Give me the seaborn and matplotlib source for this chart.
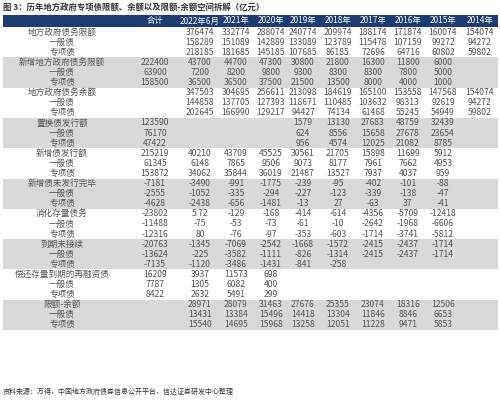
import matplotlib
matplotlib.use('Agg')
import matplotlib.pyplot as plt
import seaborn as sns
import numpy as np

sns.set_theme(style='white')
plt.rcParams['font.family'] = ['Noto Sans CJK SC', 'DejaVu Sans']

title = '图 3：历年地方政府专项债限额、余额以及限额-余额空间拆解（亿元）'
source = '资料来源：万得，中国地方政府债券信息公开平台，信达证券研发中心整理'
columns = ['合计', '2022年6月', '2021年', '2020年', '2019年', '2018年', '2017年', '2016年', '2015年', '2014年']

N = None
group_names = ['地方政府债务限额', '新增地方政府债务限额', '地方政府债务余额', '置换债发行额',
               '新增债发行额', '新增债未发行完毕', '消化存量债务', '到期未接续',
               '偿还存量到期的再融资债', '限额-余额']
sub_names = ['一般债', '专项债']

limit_total = [N, 376474, 332774, 288074, 240774, 209974, 188174, 171874, 160074, 154074]
limit_general = [N, 158289, 151089, 142889, 133089, 123789, 115478, 107159, 99272, 94272]
limit_special = [N, 218185, 181685, 145185, 107685, 86185, 72696, 64716, 60802, 59802]
newlimit_total = [222400, 43700, 44700, 47300, 30800, 21800, 16300, 11800, 6000, N]
newlimit_general = [63900, 7200, 8200, 9800, 9300, 8300, 8300, 7800, 5000, N]
newlimit_special = [158500, 36500, 36500, 37500, 21500, 13500, 8000, 4000, 1000, N]
balance_total = [N, 347503, 304695, 256611, 213098, 184619, 165100, 153558, 147568, 154074]
balance_general = [N, 144858, 137705, 127393, 118671, 110485, 103632, 98313, 92619, 94272]
balance_special = [N, 202645, 166990, 129217, 94427, 74134, 61468, 55245, 54949, 59802]
swap_total = [123590, N, N, N, 1579, 13130, 27683, 48759, 32439, N]
swap_general = [76170, N, N, N, 624, 8556, 15658, 27678, 23654, N]
swap_special = [47422, N, N, N, 956, 4574, 12025, 21082, 8785, N]
issue_total = [215219, 40210, 43709, 45525, 30561, 21705, 15898, 11699, 5912, N]
issue_general = [61345, 6148, 7865, 9506, 9073, 8177, 7961, 7662, 4953, N]
issue_special = [153872, 34062, 35844, 36019, 21487, 13527, 7937, 4037, 959, N]
unissued_total = [-7181, -3490, -991, -1775, -239, -95, -402, -101, -88, N]
unissued_general = [-2555, -1052, -335, -294, -227, -123, -339, -138, -47, N]
unissued_special = [-4628, -2438, -656, -1481, -13, 27, -63, 37, -41, N]
digest_total = [-23802, 5.72, -129, -168, -414, -614, -4356, -5709, -12418, N]
digest_general = [-11488, -75, -53, -73, -61, -10, -2642, -1968, -6606, N]
digest_special = [-12316, 80, -76, -97, -353, -603, -1714, -3741, -5812, N]
rollover_total = [-20763, -1345, -7069, -2542, -1668, -1572, -2415, -2437, -1714, N]
rollover_general = [-13624, -225, -3582, -1111, -826, -1314, -2415, -2437, -1714, N]
rollover_special = [-7135, -1120, -3486, -1431, -841, -258, N, N, N, N]
refi_total = [16209, 3937, 11573, 698, N, N, N, N, N, N]
refi_general = [7787, 1305, 6082, 400, N, N, N, N, N, N]
refi_special = [8422, 2632, 5491, 299, N, N, N, N, N, N]
space_total = [N, 28971, 28079, 31463, 27676, 25355, 23074, 18316, 12506, N]
space_general = [N, 13431, 13384, 15496, 14418, 13304, 11846, 8846, 6653, N]
space_special = [N, 15540, 14695, 15968, 13258, 12051, 11228, 9471, 5853, N]

groups = [
    (limit_total, limit_general, limit_special),
    (newlimit_total, newlimit_general, newlimit_special),
    (balance_total, balance_general, balance_special),
    (swap_total, swap_general, swap_special),
    (issue_total, issue_general, issue_special),
    (unissued_total, unissued_general, unissued_special),
    (digest_total, digest_general, digest_special),
    (rollover_total, rollover_general, rollover_special),
    (refi_total, refi_general, refi_special),
    (space_total, space_general, space_special),
]

# layout (pixels)
col_x = [155, 200, 236, 271, 303, 338, 373, 408, 443, 480]
label_x = 62
top, row_h = 27, 10.1

fig = plt.figure(figsize=(5, 4.04), dpi=100)
ax = fig.add_axes([0, 0, 1, 1])
ax.set_xlim(0, 500)
ax.set_ylim(404, 0)
ax.axis('off')

ax.text(3, 7, title, fontsize=6, fontweight='bold', color='#333333', va='center')
ax.add_patch(plt.Rectangle((3, 15), 495, top - 15, color='#1f3b70', lw=0))
for x, c in zip(col_x, columns):
    ax.text(x, (15 + top) / 2, c, color='white', fontsize=6, ha='center', va='center')

row = 0
for g, (name, vals) in enumerate(zip(group_names, groups)):
    y0 = top + row * row_h
    if g % 2 == 1:
        ax.add_patch(plt.Rectangle((3, y0), 495, 3 * row_h, color='#d9d9d9', lw=0))
    labels = [name] + sub_names
    for k, (lab, series) in enumerate(zip(labels, vals)):
        y = y0 + (k + 0.5) * row_h
        ax.text(label_x, y, lab, fontsize=6.2, ha='center', va='center', color='#555555')
        for x, v in zip(col_x, series):
            if v is None:
                continue
            s = f'{v:.2f}' if isinstance(v, float) else str(v)
            ax.text(x, y, s, fontsize=6.2, ha='center', va='center', color='#555555')
    row += 3

ax.text(3, 392, source, fontsize=5, style='italic', color='#333333', va='center')

fig.savefig('out.png', dpi=100)
